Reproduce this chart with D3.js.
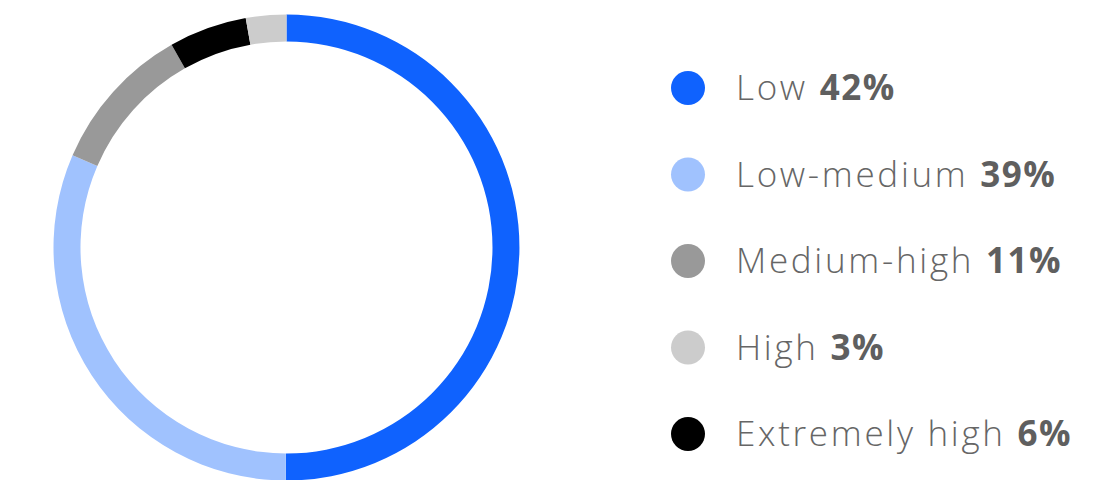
<!DOCTYPE html>
<html>
<head>
<meta charset="utf-8">
<script src="https://cdn.jsdelivr.net/npm/d3@7"></script>
<style>
  html, body { margin: 0; padding: 0; background: #fff; }
  svg { display: block; }
</style>
</head>
<body>
<svg id="chart" width="1097" height="480"></svg>
<script>
// ---- data ----
const categories   = ["Low", "Low-medium", "Medium-high", "High", "Extremely high"];
const legendValues = ["42%", "39%", "11%", "3%", "6%"];
// share of the ring as drawn (percent of full circle), legend order
const arcShares    = [50, 31.4, 10.3, 2.8, 5.4];
// clockwise drawing order starting at 12 o'clock
const arcOrder     = ["Low", "Low-medium", "Medium-high", "Extremely high", "High"];
const colors       = ["#0f62fe", "#a0c2fe", "#999999", "#cccccc", "#000000"];

// ---- layout ----
const svg = d3.select("#chart");
const cx = 286.5, cy = 247.5, outerR = 233, innerR = 206;

const color = d3.scaleOrdinal().domain(categories).range(colors);
const share = new Map(categories.map((c, i) => [c, arcShares[i]]));

const pie = d3.pie()
  .sort(null)
  .value(d => share.get(d));

const arc = d3.arc().innerRadius(innerR).outerRadius(outerR);

svg.append("g")
  .attr("transform", `translate(${cx},${cy})`)
  .selectAll("path")
  .data(pie(arcOrder))
  .join("path")
  .attr("d", arc)
  .attr("fill", d => color(d.data));

// ---- legend ----
const y = d3.scalePoint().domain(categories).range([88, 434]);
const legend = svg.append("g")
  .selectAll("g")
  .data(categories)
  .join("g")
  .attr("transform", d => `translate(0,${y(d)})`);

legend.append("circle")
  .attr("cx", 688)
  .attr("cy", 0)
  .attr("r", 17)
  .attr("fill", d => color(d));

const txt = legend.append("text")
  .attr("x", 736)
  .attr("y", 12)
  .attr("font-family", "'Open Sans', Lato, sans-serif")
  .attr("font-size", 35)
  .attr("letter-spacing", 2.7)
  .attr("fill", "#666666");

txt.append("tspan")
  .attr("font-weight", 300)
  .text(d => d + " ");
txt.append("tspan")
  .attr("font-weight", 700)
  .attr("letter-spacing", 1.5)
  .attr("fill", "#5f5f5f")
  .text((d, i) => legendValues[i]);
</script>
</body>
</html>
